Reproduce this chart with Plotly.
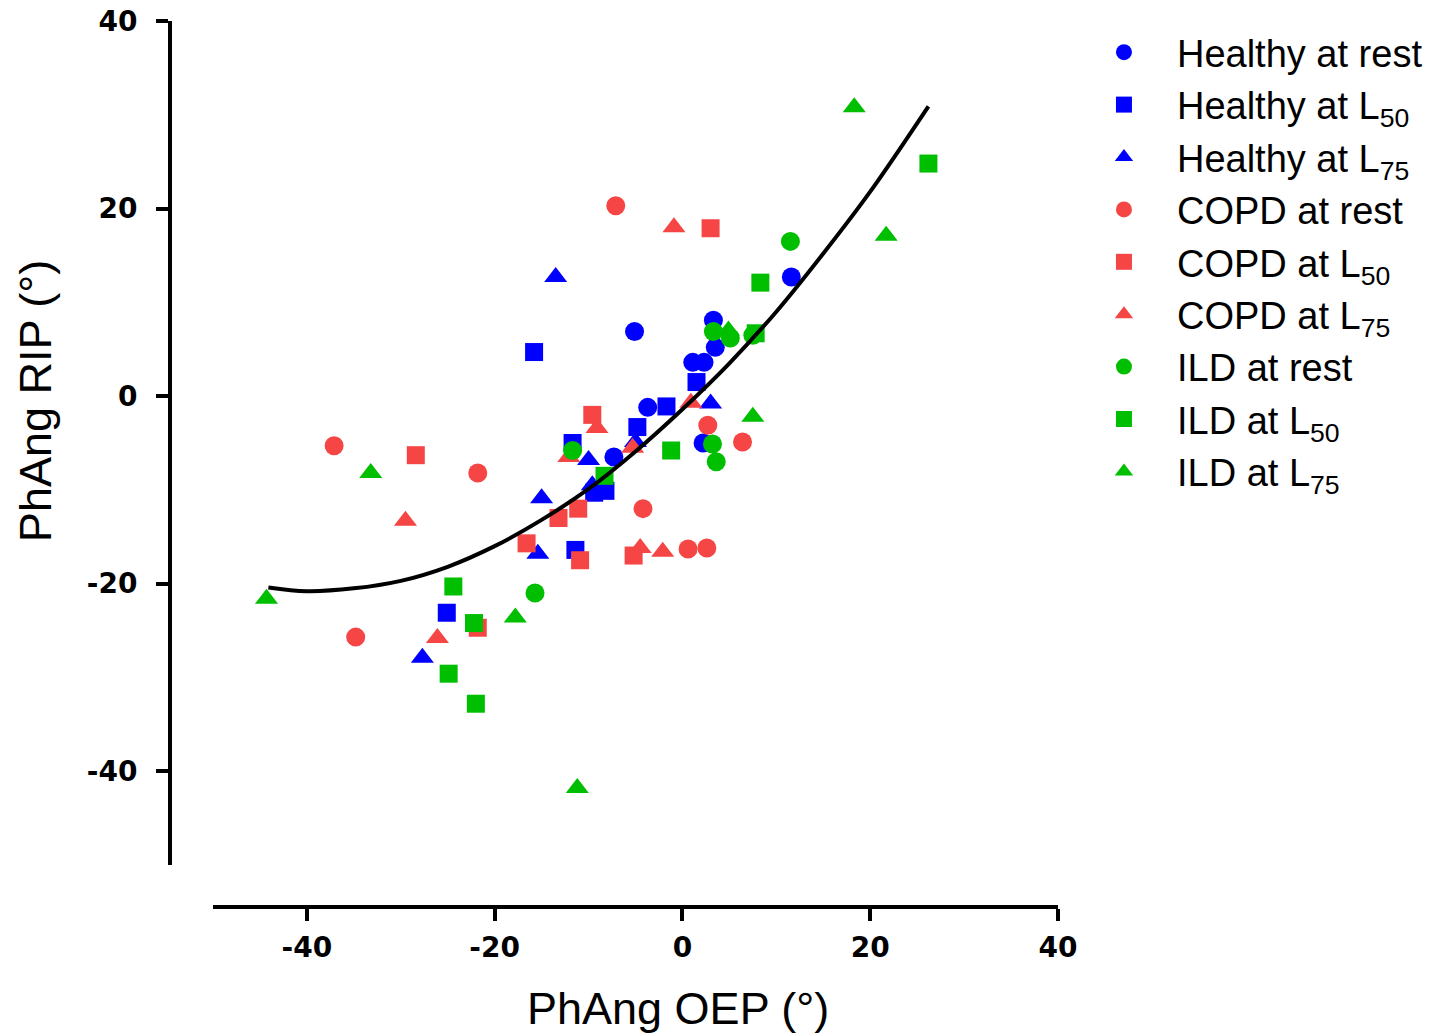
import plotly.graph_objects as go

# PhAng OEP (x) vs PhAng RIP (y), degrees
healthy_rest_x = [11.6, 3.3, -5.1, 3.5, 1.1, 2.3, -3.7, -7.3, 2.2]
healthy_rest_y = [12.7, 8.1, 6.9, 5.2, 3.6, 3.6, -1.2, -6.5, -5.0]

healthy_l50_x = [-15.8, -1.7, 1.5, -4.8, -11.7, -9.4, -8.2, -11.4, -25.1]
healthy_l50_y = [4.7, -1.1, 1.5, -3.3, -5.0, -10.3, -10.1, -16.4, -23.1]

healthy_l75_x = [-13.5, 3.0, -10.0, -5.0, -15.0, -9.6, -15.4, -27.7]
healthy_l75_y = [12.7, -0.8, -6.8, -4.9, -10.9, -9.5, -16.8, -27.9]

copd_rest_x = [-37.1, -21.8, -34.8, -7.1, 2.7, 6.4, -4.2, 0.6, 2.6]
copd_rest_y = [-5.3, -8.2, -25.7, 20.3, -3.1, -4.9, -12.0, -16.3, -16.2]

copd_l50_x = [-28.4, 3.0, -9.6, -13.2, -11.1, -16.6, -10.9, -5.2, -21.8]
copd_l50_y = [-6.3, 17.9, -2.0, -13.0, -12.0, -15.7, -17.5, -17.0, -24.7]

copd_l75_x = [-29.5, -0.9, -9.1, -12.1, -5.3, 0.9, -4.5, -2.1, -26.1]
copd_l75_y = [-13.3, 18.0, -3.4, -6.5, -5.5, -0.7, -16.2, -16.6, -25.8]

ild_rest_x = [-11.7, -15.7, 3.3, 5.1, 7.5, 3.2, 3.6, 11.5]
ild_rest_y = [-5.8, -21.0, 6.9, 6.2, 6.5, -5.1, -7.0, 16.5]

ild_l50_x = [26.2, 8.3, 7.8, -1.2, -8.3, -24.4, -22.2, -24.9, -22.0]
ild_l50_y = [24.8, 12.1, 6.7, -5.8, -8.5, -20.3, -24.2, -29.6, -32.8]

ild_l75_x = [18.3, 21.7, -44.3, -33.2, -17.8, -11.2, 7.5, 4.9]
ild_l75_y = [30.8, 17.1, -21.6, -8.2, -23.6, -41.8, -2.2, 7.0]

# fitted curve, points
fit_x = [-44.1, -40, -35, -30, -25, -20, -15, -10, -5, 0, 5, 10, 15, 20, 26.2]
fit_y = [-20.4, -20.8, -20.5, -19.7, -18.2, -16.0, -13.2, -9.9, -5.9, -1.4, 3.5, 9.0, 15.2, 21.8, 30.9]

tick_vals = [-40, -20, 0, 20, 40]
tick_text = ["-40", "-20", "0", "20", "40"]

BLUE = "#0000FF"
RED = "#F54545"
GREEN = "#00BF00"

series = [
    ("Healthy at rest", healthy_rest_x, healthy_rest_y, BLUE, "circle"),
    ("Healthy at L<sub>50</sub>", healthy_l50_x, healthy_l50_y, BLUE, "square"),
    ("Healthy at L<sub>75</sub>", healthy_l75_x, healthy_l75_y, BLUE, "triangle-up"),
    ("COPD at rest", copd_rest_x, copd_rest_y, RED, "circle"),
    ("COPD at L<sub>50</sub>", copd_l50_x, copd_l50_y, RED, "square"),
    ("COPD at L<sub>75</sub>", copd_l75_x, copd_l75_y, RED, "triangle-up"),
    ("ILD at rest", ild_rest_x, ild_rest_y, GREEN, "circle"),
    ("ILD at L<sub>50</sub>", ild_l50_x, ild_l50_y, GREEN, "square"),
    ("ILD at L<sub>75</sub>", ild_l75_x, ild_l75_y, GREEN, "triangle-up"),
]

size_of = {"circle": 19, "square": 18, "triangle-up": 20}

fig = go.Figure()
for name, xs, ys, col, sym in series:
    fig.add_trace(go.Scatter(
        x=xs, y=ys, mode="markers", name=name,
        marker=dict(color=col, symbol=sym, size=size_of[sym], line=dict(width=0)),
    ))

fig.add_trace(go.Scatter(
    x=fit_x, y=fit_y, mode="lines", showlegend=False,
    line=dict(color="black", width=4, shape="spline"),
))

tickfont = dict(family="DejaVu Sans", size=28, color="black", weight="bold")
axis_common = dict(
    showgrid=False, zeroline=False, showline=True, linecolor="black", linewidth=4,
    ticks="outside", ticklen=12, tickwidth=4, tickcolor="black",
    tickfont=tickfont, anchor="free", position=0, automargin=False,
    tickvals=tick_vals, ticktext=tick_text, range=[-50, 40],
    ticklabeloverflow="allow",
)

# page body adds an 8px offset, so margins are shifted by that much
fig.update_layout(
    width=1452, height=1034,
    margin=dict(l=162, r=18, t=13, b=135, autoexpand=False),
    paper_bgcolor="white", plot_bgcolor="white",
    xaxis=dict(domain=[0.0338, 0.6981], ticklabelstandoff=2, **axis_common),
    yaxis=dict(domain=[0.0474, 1], ticklabelstandoff=13, **axis_common),
    legend=dict(
        x=0.7083, y=1.0, xanchor="left", yanchor="top",
        font=dict(family="Liberation Sans", size=38, color="black"),
        itemwidth=96, bgcolor="rgba(0,0,0,0)", borderwidth=0,
    ),
    showlegend=True,
    annotations=[
        dict(text="PhAng OEP (°)", xref="paper", yref="paper", x=0.3994, y=-0.114,
             xanchor="center", yanchor="middle", showarrow=False,
             font=dict(family="Liberation Sans", size=45, color="black")),
        dict(text="PhAng RIP (°)", xref="paper", yref="paper", x=-0.1061, y=0.571,
             xanchor="center", yanchor="middle", showarrow=False, textangle=-90,
             font=dict(family="Liberation Sans", size=45, color="black")),
    ],
)

fig.write_html("out.html")
